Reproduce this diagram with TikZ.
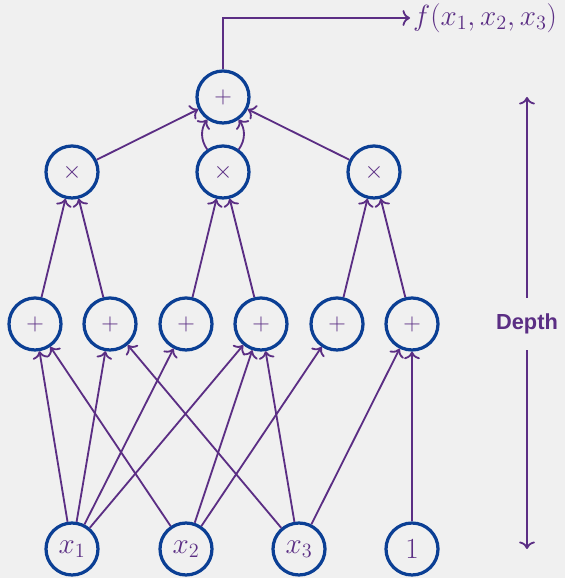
\documentclass[tikz,border=0pt]{standalone}
\usepackage{fontspec}
\usetikzlibrary{arrows.meta}
\newfontfamily\depthfont{Liberation Sans}
\definecolor{paper}{HTML}{F0F0F0}
\definecolor{ringblue}{HTML}{0B3F94}
\definecolor{wirepurple}{HTML}{5B2E84}

\tikzset{
    gate/.style={circle, draw=ringblue, line width=2.3pt, minimum size=1.3cm, inner sep=0pt,
        text=wirepurple, font=\fontsize{19}{22}\selectfont},
    leaf/.style={gate, font=\fontsize{22}{26}\selectfont},
    wire/.style={-{To[scale=1.2]}, draw=wirepurple, line width=1.3pt},
}

\begin{document}
\begin{tikzpicture}
    \fill[paper] (0,0) rectangle (14.125,14.45);
    \useasboundingbox (0,0) rectangle (14.125,14.45);

    %output gate
    \node[gate] (top) at (5.575,12.025) {$+$};

    %product layer
    \node[gate] (m1) at (1.8,10.15) {$\times$};
    \node[gate] (m2) at (5.575,10.15) {$\times$};
    \node[gate] (m3) at (9.35,10.15) {$\times$};

    %sum layer
    \node[gate] (s1) at (0.875,6.35) {$+$};
    \node[gate] (s2) at (2.75,6.35) {$+$};
    \node[gate] (s3) at (4.65,6.35) {$+$};
    \node[gate] (s4) at (6.525,6.35) {$+$};
    \node[gate] (s5) at (8.425,6.35) {$+$};
    \node[gate] (s6) at (10.3,6.35) {$+$};

    %inputs
    \node[leaf] (x1) at (1.8,0.725) {$x_1$};
    \node[leaf] (x2) at (4.65,0.725) {$x_2$};
    \node[leaf] (x3) at (7.475,0.725) {$x_3$};
    \node[leaf] (one) at (10.3,0.725) {$1$};

    %inputs -> sums
    \draw[wire] (x1) -- (s1);
    \draw[wire] (x1) -- (s2);
    \draw[wire] (x1) -- (s3);
    \draw[wire] (x1) -- (s4);
    \draw[wire] (x2) -- (s1);
    \draw[wire] (x2) -- (s4);
    \draw[wire] (x2) -- (s5);
    \draw[wire] (x3) -- (s2);
    \draw[wire] (x3) -- (s4);
    \draw[wire] (x3) -- (s6);
    \draw[wire] (one) -- (s6);

    %sums -> products
    \draw[wire] (s1) -- (m1);
    \draw[wire] (s2) -- (m1);
    \draw[wire] (s3) -- (m2);
    \draw[wire] (s4) -- (m2);
    \draw[wire] (s5) -- (m3);
    \draw[wire] (s6) -- (m3);

    %products -> output gate (middle one twice)
    \draw[wire] (m1) -- (top);
    \draw[wire] (m3) -- (top);
    \draw[wire] (m2) to[bend left=35] (top);
    \draw[wire] (m2) to[bend right=35] (top);

    \node[anchor=west, inner sep=2pt, text=wirepurple, font=\fontsize{22}{26}\selectfont] (out) at (10.25,14.0) {$f(x_1,x_2,x_3)$};
    \draw[wire] (top.north) |- (out.west);

    %depth marker
    \node[minimum height=1.3cm, text=wirepurple, font=\depthfont\bfseries\fontsize{15.5}{18}\selectfont] (depth) at (13.175,6.35) {Depth};
    \draw[wire] (depth) -- (depth |- top);
    \draw[wire] (depth) -- (depth |- x1);
\end{tikzpicture}
\end{document}
